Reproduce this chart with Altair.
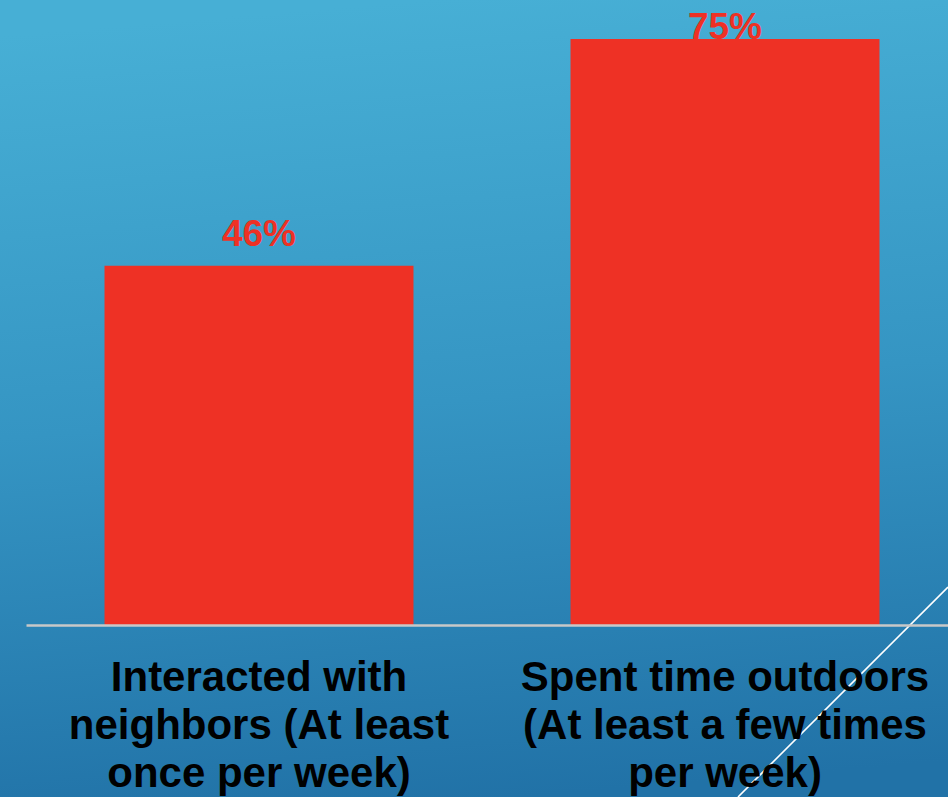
import altair as alt
import pandas as pd

# ---- data ----
label_lines = [
    ["Interacted with", "neighbors (At least", "once per week)"],
    ["Spent time outdoors", "(At least a few times", "per week)"],
]
categories = ["|".join(l) for l in label_lines]
values = [46, 75]

df = pd.DataFrame({"category": categories, "value": values})

RED = "#EE3125"
FONT = "Liberation Sans"

x_enc = alt.X(
    "category:N",
    sort=None,
    title=None,
    scale=alt.Scale(range=[0, 932], paddingInner=0.337, paddingOuter=0.1685),
    axis=alt.Axis(
        labelExpr="split(datum.label, '|')",
        labelAngle=0,
        labelFont=FONT,
        labelFontSize=42,
        labelFontWeight="bold",
        labelColor="black",
        labelLineHeight=48,
        labelBaseline="top",
        labelPadding=32,
        ticks=False,
        domainColor="#C8C8C8",
        domainWidth=2.5,
        grid=False,
        labelLimit=0,
        zindex=1,
    ),
)
y_scale = alt.Scale(domain=[0, 80])

bg = alt.Chart(pd.DataFrame({"a": [0]})).mark_rect(
    color=alt.Gradient(
        gradient="linear",
        stops=[
            alt.GradientStop(color="#47AFD5", offset=0),
            alt.GradientStop(color="#3595C3", offset=0.5),
            alt.GradientStop(color="#2172A7", offset=1),
        ],
        x1=0.45, x2=0.55, y1=0, y2=1,
    )
).encode(
    x=alt.value(-26), x2=alt.value(922), y=alt.value(0), y2=alt.value(797)
)

bars = alt.Chart(df).mark_bar(color=RED).encode(
    x=x_enc,
    y=alt.Y("value:Q", scale=y_scale, axis=None),
)

labels = alt.Chart(df).transform_calculate(
    labelY="min(datum.value + 2.56, 75.0)",
    txt="datum.value + '%'",
).mark_text(
    font=FONT, fontSize=37, fontWeight="bold", color=RED, baseline="alphabetic"
).encode(
    x=alt.X("category:N", sort=None),
    y=alt.Y("labelY:Q", scale=y_scale),
    text="txt:N",
)

deco = alt.Chart(pd.DataFrame({"a": [0]})).mark_rule(
    color="white", strokeWidth=1.6
).encode(
    x=alt.value(922), y=alt.value(587), x2=alt.value(712), y2=alt.value(797)
)

chart = alt.layer(bg, bars, labels, deco).properties(
    width=922,
    height=625,
    autosize=alt.AutoSizeParams(type="none"),
    padding={"left": 26, "top": 0, "right": 0, "bottom": 172},
    background="#2D86B8",
).configure_view(stroke=None)

chart.save("out.html", embed_options={"renderer": "svg", "actions": False})
